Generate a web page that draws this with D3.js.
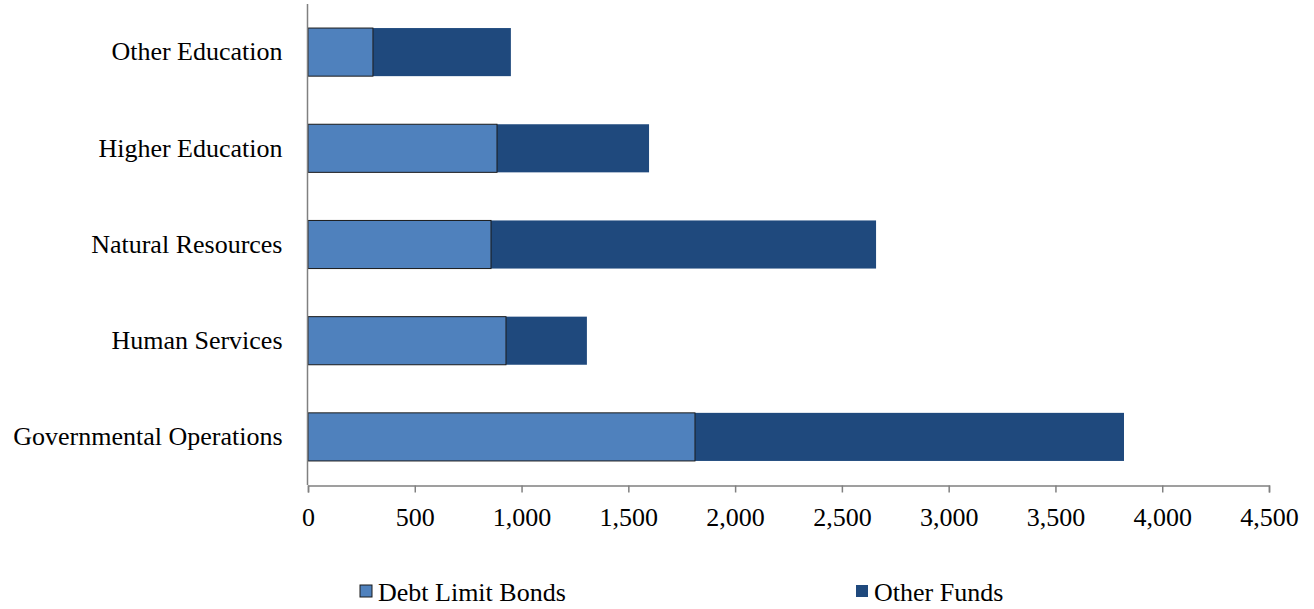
<!DOCTYPE html>
<html><head><meta charset="utf-8">
<script src="https://cdn.jsdelivr.net/npm/d3@7"></script>
<style>body{margin:0;background:#fff}svg{display:block}text{font-family:"Liberation Serif","Times New Roman",serif}</style>
</head><body><svg id="c" width="1314" height="609"></svg>
<script>
const categories = ["Other Education","Higher Education","Natural Resources","Human Services","Governmental Operations"];
const debtLimitBonds = [304, 885, 857, 927, 1812];
const otherFunds = [646, 712, 1803, 379, 2009];
const seriesNames = ["Debt Limit Bonds","Other Funds"];
const tickValues = [0,500,1000,1500,2000,2500,3000,3500,4000,4500];
const colors = ["#4F81BD","#1F497D"];

const svg = d3.select("#c");
const x = d3.scaleLinear().domain([0,4500]).range([308,1269]);
const y = d3.scaleBand().domain(categories).range([4,485]).paddingInner(0.5).paddingOuter(0.25);

const data = categories.map((c,i)=>({cat:c, a:debtLimitBonds[i], b:otherFunds[i]}));

// other funds
svg.append("g").selectAll("rect").data(data).join("rect")
  .attr("x", d=>x(d.a)).attr("y", d=>y(d.cat))
  .attr("width", d=>x(d.a+d.b)-x(d.a)).attr("height", y.bandwidth())
  .attr("fill", colors[1]);
// debt limit bonds
svg.append("g").selectAll("rect").data(data).join("rect")
  .attr("x", d=>x(0)).attr("y", d=>y(d.cat))
  .attr("width", d=>x(d.a)-x(0)).attr("height", y.bandwidth())
  .attr("fill", colors[0]).attr("stroke","#1a1a1a").attr("stroke-width",1);

// x axis
const xa = svg.append("g").attr("transform","translate(0,485.5)")
  .call(d3.axisBottom(x).tickValues(tickValues).tickSize(7).tickPadding(15).tickFormat(d3.format(",")));
xa.select(".domain").attr("stroke","#808080").attr("stroke-width",1.5);
xa.selectAll(".tick line").attr("stroke","#808080").attr("stroke-width",1.5);
xa.selectAll(".tick text").attr("font-size","26px").attr("fill","#000").attr("font-family","Liberation Serif, serif");

// y axis
const ya = svg.append("g").attr("transform","translate(307.5,0)")
  .call(d3.axisLeft(y).tickSize(0).tickPadding(25));
ya.select(".domain").attr("stroke","#808080").attr("stroke-width",1.5).attr("d","M0,4V485");
ya.selectAll(".tick text").attr("font-size","26px").attr("fill","#000").attr("font-family","Liberation Serif, serif");

// legend
const legX = [360, 856];
const lg = svg.append("g");
seriesNames.forEach((n,i)=>{
  lg.append("rect").attr("x",legX[i]).attr("y",585).attr("width",12).attr("height",12)
    .attr("fill",colors[i]).attr("stroke", i===0?"#1a1a1a":"none");
  lg.append("text").attr("x",legX[i]+18).attr("y",601).attr("font-size","26px").text(n);
});
</script></body></html>
